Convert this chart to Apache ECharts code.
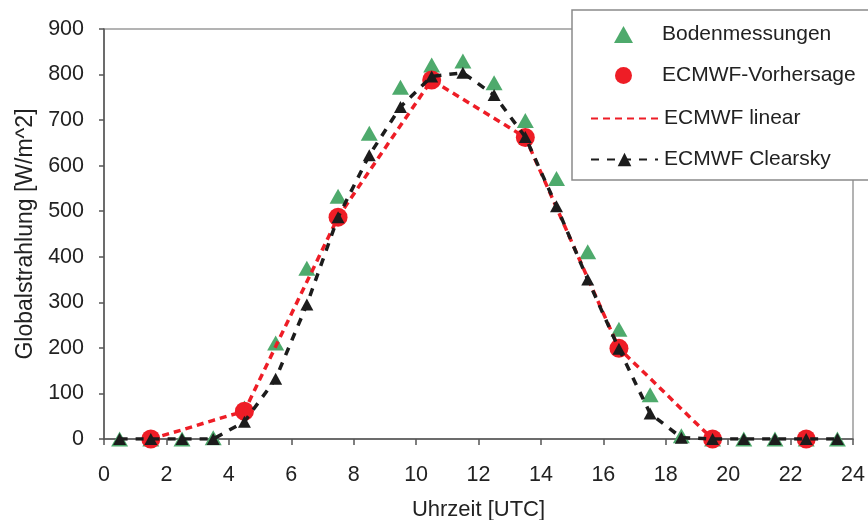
<!DOCTYPE html>
<html>
<head>
<meta charset="utf-8">
<script src="https://cdn.jsdelivr.net/npm/echarts@6/dist/echarts.min.js"></script>
<style>
  html, body { margin: 0; padding: 0; background: #fff; }
  #chart { width: 868px; height: 520px; }
</style>
</head>
<body>
<div id="chart"></div>
<script>
// Hour of day (UTC), half-hour centres
const hours = [0.5, 1.5, 2.5, 3.5, 4.5, 5.5, 6.5, 7.5, 8.5, 9.5, 10.5, 11.5,
               12.5, 13.5, 14.5, 15.5, 16.5, 17.5, 18.5, 19.5, 20.5, 21.5, 22.5, 23.5];

// Ground measurements [W/m^2]
const bodenmessungen = [0, 0, 0, 3, 68, 211, 375, 533, 671, 772, 821, 830,
                        782, 699, 572, 411, 241, 97, 7, 0, 0, 0, 0, 0];

// ECMWF forecast, every 3 hours
const vorhersageHours = [1.5, 4.5, 7.5, 10.5, 13.5, 16.5, 19.5, 22.5];
const vorhersage = [0, 61, 487, 788, 662, 199, 0, 0];

// ECMWF linear, hourly from 1.5 to 19.5 UTC
const linearHours = [1.5, 2.5, 3.5, 4.5, 5.5, 6.5, 7.5, 8.5, 9.5, 10.5,
                     11.5, 12.5, 13.5, 14.5, 15.5, 16.5, 17.5, 18.5, 19.5];
const linear = [0, 20, 41, 61, 203, 345, 487, 588, 688, 788,
                746, 704, 662, 508, 353, 199, 133, 66, 0];

// ECMWF clear-sky model
const clearsky = [0, 0, 0, 0, 38, 132, 295, 487, 623, 729, 796, 804,
                  755, 663, 511, 350, 198, 56, 3, 0, 0, 0, 0, 0];

const xTicks = { min: 0, max: 24, step: 2 };
const yTicks = { min: 0, max: 900, step: 100 };

const pair = (xs, ys) => xs.map((x, i) => [x, ys[i]]);

const FONT = "'Liberation Sans', Arial, sans-serif";
const TEXT = '#222';
const GREEN = '#4eaa6c';
const RED = '#ee1d26';
const BLACK = '#1c1c1c';

const legendText = { fontFamily: FONT, fontSize: 21, color: TEXT };

const chart = echarts.init(document.getElementById('chart'), null, { renderer: 'canvas' });

chart.setOption({
  animation: false,
  backgroundColor: '#fff',
  textStyle: { fontFamily: FONT, color: TEXT },
  grid: {
    left: 104, right: 15, top: 29, bottom: 81,
    containLabel: false,
    outerBoundsMode: 'none',
    show: true, borderColor: '#9a9a9a', borderWidth: 1.5, backgroundColor: 'transparent'
  },
  xAxis: {
    type: 'value',
    min: xTicks.min, max: xTicks.max, interval: xTicks.step,
    name: 'Uhrzeit [UTC]',
    nameLocation: 'middle', nameGap: 60,
    nameTextStyle: { fontFamily: FONT, fontSize: 22, color: TEXT },
    axisLine: { show: true, lineStyle: { color: '#555', width: 1.5 } },
    axisTick: { show: true, inside: false, length: 6, lineStyle: { color: '#555', width: 1.5 } },
    axisLabel: { fontFamily: FONT, fontSize: 21.5, color: TEXT, margin: 25 },
    splitLine: { show: false }
  },
  yAxis: {
    type: 'value',
    min: yTicks.min, max: yTicks.max, interval: yTicks.step,
    name: 'Globalstrahlung [W/m^2]',
    nameLocation: 'middle', nameGap: 65, nameRotate: 90,
    nameTextStyle: { fontFamily: FONT, fontSize: 23, color: TEXT },
    axisLine: { show: true, lineStyle: { color: '#555', width: 1.5 } },
    axisTick: { show: true, inside: false, length: 5, lineStyle: { color: '#555', width: 1.5 } },
    axisLabel: { fontFamily: FONT, fontSize: 21.5, color: TEXT, margin: 20 },
    splitLine: { show: false }
  },
  legend: [
    {
      // marker-only entries: narrow icon, text pushed to the common column
      orient: 'vertical',
      left: 609, top: 19,
      itemWidth: 19, itemHeight: 17, itemGap: 20,
      z: 10,
      textStyle: Object.assign({ padding: [0, 0, 0, 24] }, legendText),
      data: ['Bodenmessungen', 'ECMWF-Vorhersage']
    },
    {
      // line entries
      orient: 'vertical',
      left: 585, top: 103,
      itemWidth: 67, itemHeight: 17, itemGap: 20,
      z: 10,
      textStyle: Object.assign({ padding: [0, 0, 0, 1] }, legendText),
      data: [
        { name: 'ECMWF linear', itemStyle: { color: 'rgba(0,0,0,0)', borderWidth: 0, opacity: 0 } },
        'ECMWF Clearsky'
      ]
    }
  ],
  graphic: [{
    type: 'rect',
    z: 5,
    shape: { x: 572, y: 10, width: 320, height: 170 },
    style: { fill: '#fff', stroke: '#8a8a8a', lineWidth: 1.5 }
  }],
  series: [
    {
      name: 'Bodenmessungen',
      type: 'scatter',
      symbol: 'triangle', symbolSize: [17, 15],
      itemStyle: { color: GREEN, opacity: 1 },
      z: 2,
      data: pair(hours, bodenmessungen)
    },
    {
      name: 'ECMWF-Vorhersage',
      type: 'scatter',
      symbol: 'circle', symbolSize: 19,
      itemStyle: { color: RED, opacity: 1 },
      z: 3,
      data: pair(vorhersageHours, vorhersage)
    },
    {
      name: 'ECMWF linear',
      type: 'line',
      showSymbol: false, symbol: 'none',
      lineStyle: { color: RED, width: 3.5, type: [7, 5] },
      itemStyle: { color: RED },
      z: 4,
      data: pair(linearHours, linear)
    },
    {
      name: 'ECMWF Clearsky',
      type: 'line',
      symbol: 'triangle', symbolSize: [13, 12], showSymbol: true,
      lineStyle: { color: BLACK, width: 3.5, type: [8, 8] },
      itemStyle: { color: BLACK, opacity: 1 },
      z: 5,
      data: pair(hours, clearsky)
    }
  ]
});
</script>
</body>
</html>
